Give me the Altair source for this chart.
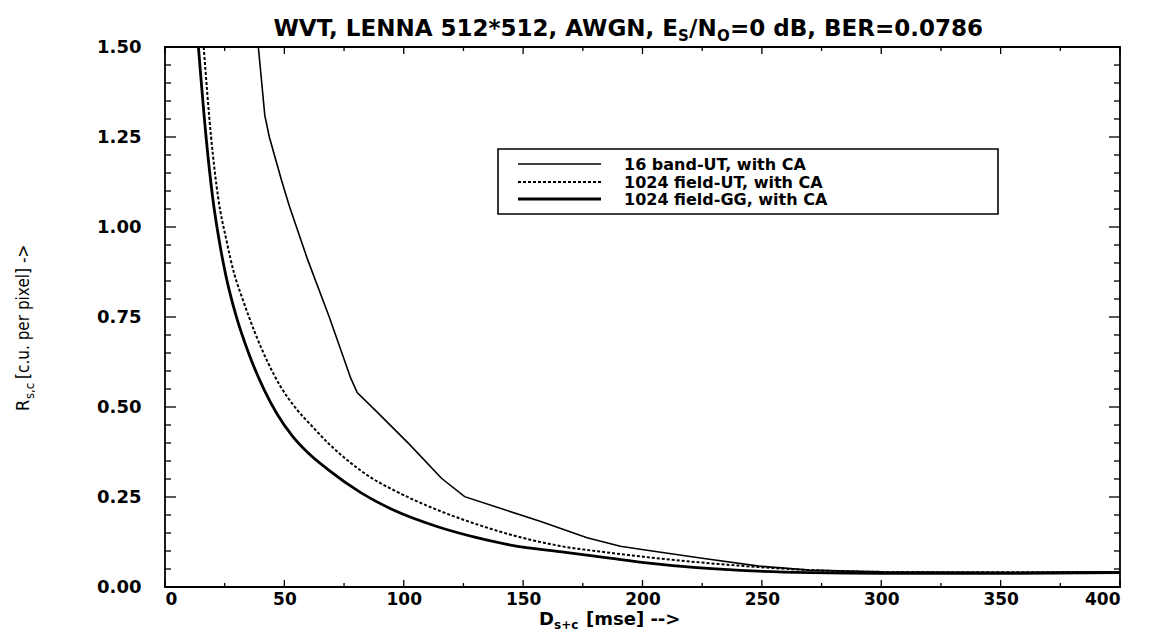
import altair as alt
import pandas as pd

# ---- data ----
names = ["16 band-UT, with CA", "1024 field-UT, with CA", "1024 field-GG, with CA"]

ut16_x = [39.1, 41.8, 43.7, 48.8, 52.0, 59.7, 68.8, 77.8, 80.5, 89.3, 102.3, 115.8, 125.5,
          140.7, 157.4, 176.8, 190.7, 201.9, 225.0, 248.8, 270.0, 300.0, 350.0, 400.0]
ut16_y = [1.50, 1.31, 1.25, 1.13, 1.06, 0.91, 0.75, 0.58, 0.54, 0.483, 0.397, 0.302, 0.251,
          0.218, 0.182, 0.137, 0.113, 0.102, 0.080, 0.058, 0.047, 0.042, 0.041, 0.042]

ut1024_x = [16.2, 19.3, 22.3, 25.6, 29.0, 32.5, 37.7, 43.0, 48.3, 55.0, 61.8, 68.6, 76.8, 86.0,
            96.1, 114.1, 130.7, 146.0, 165.5, 186.4, 201.8, 241.2, 270.0, 300.0, 350.0, 400.0]
ut1024_y = [1.50, 1.25, 1.08, 0.967, 0.87, 0.80, 0.706, 0.625, 0.558, 0.495, 0.445, 0.398, 0.350, 0.305,
            0.268, 0.214, 0.174, 0.143, 0.114, 0.095, 0.083, 0.059, 0.047, 0.042, 0.041, 0.042]

gg1024_x = [14.0, 17.2, 20.0, 22.5, 25.5, 29.7, 35.0, 41.6, 47.0, 53.3, 60.0, 68.3, 82.0, 95.9,
            113.9, 130.6, 145.9, 165.4, 186.3, 201.7, 241.2, 270.0, 300.0, 350.0, 400.0]
gg1024_y = [1.50, 1.25, 1.08, 0.97, 0.865, 0.755, 0.65, 0.547, 0.48, 0.42, 0.372, 0.326, 0.262, 0.213,
            0.168, 0.137, 0.115, 0.098, 0.080, 0.067, 0.046, 0.040, 0.038, 0.038, 0.040]

x_major = [0, 50, 100, 150, 200, 250, 300, 350, 400]
x_minor = [25, 75, 125, 175, 225, 275, 325, 375]
y_major = [0.0, 0.25, 0.5, 0.75, 1.0, 1.25, 1.5]
y_minor = [0.05, 0.1, 0.15, 0.2, 0.3, 0.35, 0.4, 0.45, 0.55, 0.6, 0.65, 0.7,
           0.8, 0.85, 0.9, 0.95, 1.05, 1.1, 1.15, 1.2, 1.3, 1.35, 1.4, 1.45]

# ---- layout ----
W, H = 955, 540
LAB_FONT = "DejaVu Sans"
xs = alt.Scale(domain=[0, 400], nice=False, zero=False)
ys = alt.Scale(domain=[0, 1.5], nice=False, zero=False)

x_axis = alt.Axis(values=x_major, format="d", title=None, ticks=False, tickSize=0, domain=False,
                  grid=False, labelFont=LAB_FONT, labelFontSize=17, labelFontWeight="bold",
                  labelColor="black", labelPadding=4)
y_axis = alt.Axis(values=y_major, format=".2f", title=None, ticks=False, tickSize=0, domain=False,
                  grid=False, labelFont=LAB_FONT, labelFontSize=18, labelFontWeight="bold",
                  labelColor="black", labelPadding=24)


def curve(xv, yv, width, dash=None, interp="linear"):
    df = pd.DataFrame({"x": xv, "y": yv})
    kw = dict(color="black", strokeWidth=width, interpolate=interp)
    if dash:
        kw["strokeDash"] = dash
    return alt.Chart(df).mark_line(**kw).encode(
        x=alt.X("x:Q", scale=xs, axis=x_axis),
        y=alt.Y("y:Q", scale=ys, axis=y_axis),
    )


def yticks(vals, x0, x1):
    return alt.Chart(pd.DataFrame({"y": vals})).mark_rule(color="black", strokeWidth=1.3).encode(
        y=alt.Y("y:Q", scale=ys, axis=y_axis), x=alt.value(x0), x2=alt.value(x1))


def xticks(vals, y0, y1):
    return alt.Chart(pd.DataFrame({"x": vals})).mark_rule(color="black", strokeWidth=1.3).encode(
        x=alt.X("x:Q", scale=xs, axis=x_axis), y=alt.value(y0), y2=alt.value(y1))


def txt(s, x, y, size, angle=0, align="left", weight="bold", font=LAB_FONT):
    return alt.Chart(pd.DataFrame({"t": [s]})).mark_text(
        align=align, baseline="alphabetic", angle=angle, fontSize=size, font=font,
        fontWeight=weight, color="black").encode(text="t:N", x=alt.value(x), y=alt.value(y))


layers = [
    curve(gg1024_x, gg1024_y, 2.8, interp="monotone"),
    curve(ut1024_x, ut1024_y, 2.0, dash=[3, 2], interp="monotone"),
    curve(ut16_x, ut16_y, 1.6),
    yticks(y_major, 0, 11), yticks(y_minor, 0, 6),
    yticks(y_major, W, W - 11), yticks(y_minor, W, W - 6),
    xticks(x_major, H, H - 7), xticks(x_minor, H, H - 4),
    xticks(x_major, 0, 7), xticks(x_minor, 0, 4),
]

# legend box
lx0, lx1, ly0, ly1 = 333, 833, 102, 167
layers.append(alt.Chart(pd.DataFrame({"a": [0]})).mark_rect(
    fill="white", stroke="black", strokeWidth=1.6).encode(
    x=alt.value(lx0), x2=alt.value(lx1), y=alt.value(ly0), y2=alt.value(ly1)))
rows = [117, 135, 152]
styles = [(1.6, None), (2.0, [3, 2]), (2.8, None)]
for nm, ry, (sw, dash) in zip(names, rows, styles):
    kw = dict(color="black", strokeWidth=sw)
    if dash:
        kw["strokeDash"] = dash
    layers.append(alt.Chart(pd.DataFrame({"a": [0]})).mark_rule(**kw).encode(
        x=alt.value(353), x2=alt.value(436), y=alt.value(ry)))
    layers.append(txt(nm, 459, ry + 6, 16))

# title with subscripts
TS, SS = 23, 15
layers += [
    txt("WVT, LENNA 512*512, AWGN, E", 513, -11, TS, align="right"),
    txt("S", 513, -6, SS),
    txt("/N", 524, -11, TS),
    txt("O", 552, -6, SS),
    txt("=0 dB, BER=0.0786", 565, -11, TS),
]

# x axis title
layers += [
    txt("D", 374, 578, 18),
    txt("s+c", 389, 582, 12),
    txt("[mse] -->", 421, 578, 18),
]

# y axis title (rotated)
YF = "Liberation Sans Narrow, DejaVu Sans Condensed, Liberation Sans"
layers += [
    txt("R", -136, 364, 18, angle=270, weight="normal", font=YF),
    txt("s,c", -131, 352, 13, angle=270, weight="normal", font=YF),
    txt("[c.u. per pixel] ->", -136, 332, 17, angle=270, weight="normal", font=YF),
]

chart = alt.layer(*layers).properties(
    width=W, height=H, autosize="none",
    padding={"left": 165, "top": 47, "right": 35, "bottom": 48},
    background="white",
).configure_view(stroke="black", strokeWidth=1.8)

chart.save("out.html", embed_options={"renderer": "svg", "actions": False})
